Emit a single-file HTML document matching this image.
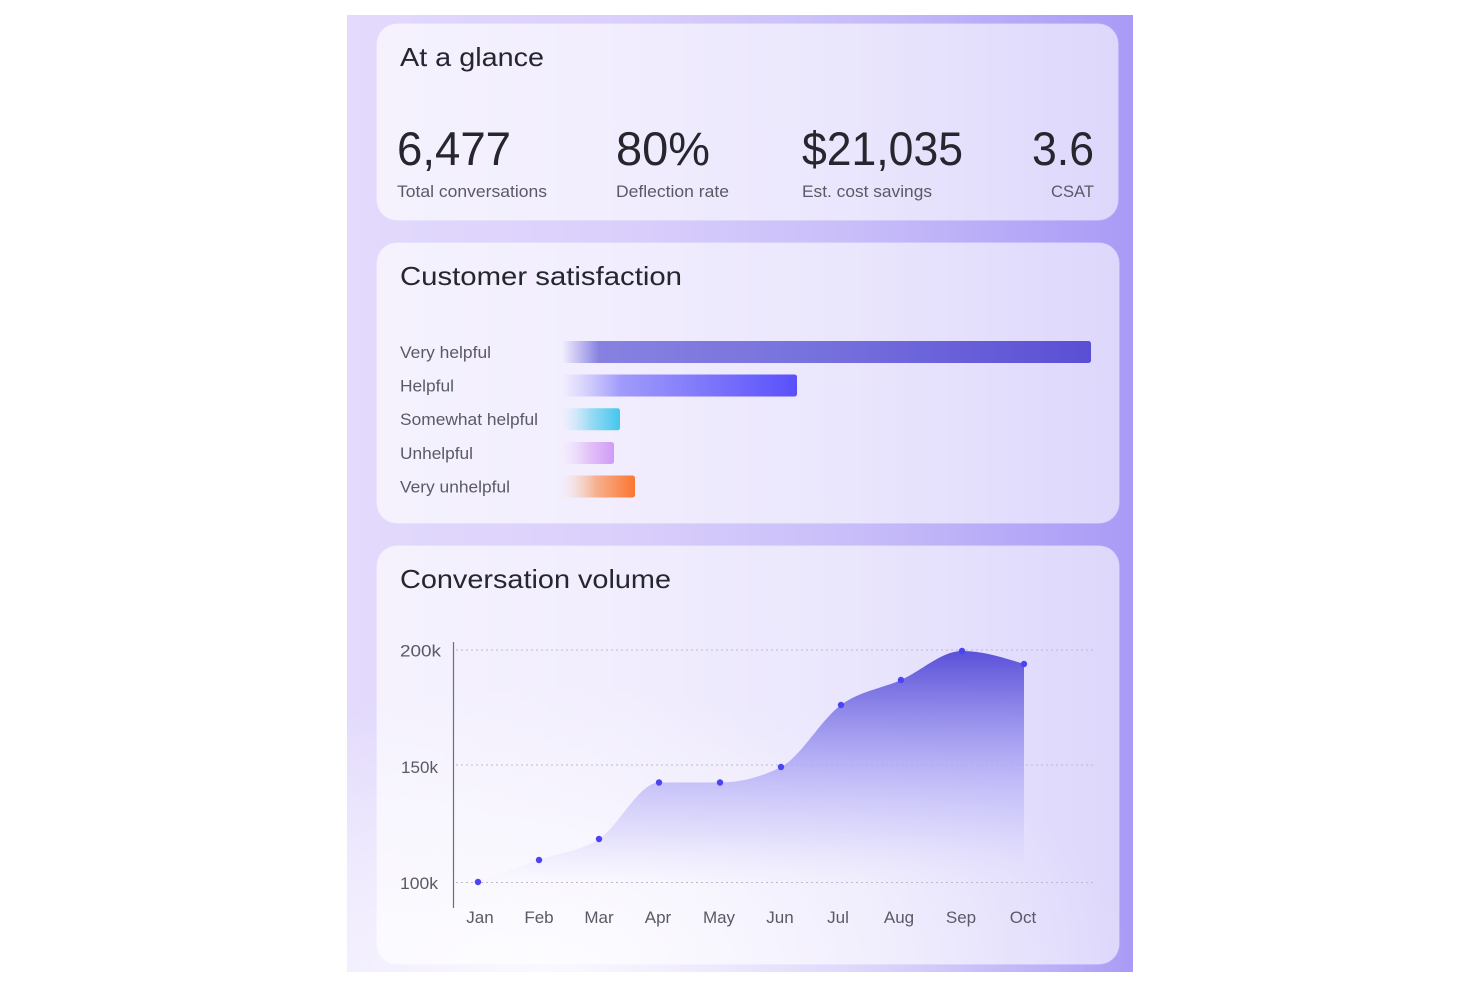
<!DOCTYPE html>
<html><head><meta charset="utf-8">
<style>
html,body{margin:0;padding:0;background:#fff;}
body{width:1480px;height:987px;position:relative;overflow:hidden;font-family:"Liberation Sans",sans-serif;}
.outer{position:absolute;left:347px;top:15px;width:786px;height:957px;
background:
radial-gradient(ellipse 75% 30% at 25% 100%, rgba(255,255,255,0.85), rgba(255,255,255,0) 100%),
linear-gradient(to bottom, rgba(255,255,255,0) 85%, rgba(190,160,225,0.0) 100%),
linear-gradient(90deg,#e3dafc 0%,#dacffb 35%,#c8bdf9 65%,#b3a6f7 88%,#a99bf6 100%);}
.card{position:absolute;border-radius:20px;
background:linear-gradient(90deg,rgba(255,255,255,0.66) 0%,rgba(255,255,255,0.62) 50%,rgba(255,255,255,0.6) 100%);
box-shadow:0 0 0 0.5px rgba(255,255,255,0.5);}
svg{position:absolute;left:0;top:0;}
</style></head>
<body>
<div class="outer"></div>
<div class="card" style="left:377px;top:24px;width:741px;height:196px;"></div>
<div class="card" style="left:377px;top:243px;width:742px;height:280px;"></div>
<div class="card" style="left:377px;top:546px;width:742px;height:418px;"></div>

<svg width="1480" height="987" viewBox="0 0 1480 987" xmlns="http://www.w3.org/2000/svg" font-family="Liberation Sans, sans-serif">
<defs>
<linearGradient id="g1" x1="0" x2="1" y1="0" y2="0">
<stop offset="0" stop-color="#8c86e2" stop-opacity="0"/>
<stop offset="0.07" stop-color="#8781e0" stop-opacity="1"/>
<stop offset="0.5" stop-color="#7670dd"/>
<stop offset="1" stop-color="#5a4fd4"/>
</linearGradient>
<linearGradient id="g2" x1="0" x2="1" y1="0" y2="0">
<stop offset="0" stop-color="#b0acfb" stop-opacity="0"/>
<stop offset="0.25" stop-color="#a09bfb" stop-opacity="1"/>
<stop offset="1" stop-color="#5950fb"/>
</linearGradient>
<linearGradient id="g3" x1="0" x2="1" y1="0" y2="0">
<stop offset="0" stop-color="#bfe8f8" stop-opacity="0"/>
<stop offset="0.5" stop-color="#98dbf3"/>
<stop offset="1" stop-color="#45c6ef"/>
</linearGradient>
<linearGradient id="g4" x1="0" x2="1" y1="0" y2="0">
<stop offset="0" stop-color="#ecd9fb" stop-opacity="0"/>
<stop offset="0.5" stop-color="#e3c4f8"/>
<stop offset="1" stop-color="#d09cf6"/>
</linearGradient>
<linearGradient id="g5" x1="0" x2="1" y1="0" y2="0">
<stop offset="0" stop-color="#f8d6c6" stop-opacity="0"/>
<stop offset="0.45" stop-color="#f6b393"/>
<stop offset="1" stop-color="#fb7630"/>
</linearGradient>
<linearGradient id="area" gradientUnits="userSpaceOnUse" x1="0" y1="650" x2="0" y2="885">
<stop offset="0" stop-color="#5a50d8" stop-opacity="1"/>
<stop offset="0.25" stop-color="#8a82e8" stop-opacity="0.95"/>
<stop offset="0.5" stop-color="#aea8f5" stop-opacity="0.8"/>
<stop offset="0.78" stop-color="#cdc9fa" stop-opacity="0.5"/>
<stop offset="1" stop-color="#e6e3fd" stop-opacity="0"/>
</linearGradient>
</defs>

<!-- Card 1 -->
<text x="400" y="66" font-size="26" fill="#26262e" textLength="144" lengthAdjust="spacingAndGlyphs">At a glance</text>
<text x="397" y="165" font-size="47" fill="#26262e" textLength="114" lengthAdjust="spacingAndGlyphs">6,477</text>
<text x="616" y="165" font-size="47" fill="#26262e" textLength="94" lengthAdjust="spacingAndGlyphs">80%</text>
<text x="802" y="165" font-size="47" fill="#26262e" textLength="161" lengthAdjust="spacingAndGlyphs">$21,035</text>
<text x="1032" y="165" font-size="47" fill="#26262e" textLength="62" lengthAdjust="spacingAndGlyphs">3.6</text>
<text x="397" y="197" font-size="17" fill="#5a5a66" textLength="150" lengthAdjust="spacingAndGlyphs">Total conversations</text>
<text x="616" y="197" font-size="17" fill="#5a5a66" textLength="113" lengthAdjust="spacingAndGlyphs">Deflection rate</text>
<text x="802" y="197" font-size="17" fill="#5a5a66" textLength="130" lengthAdjust="spacingAndGlyphs">Est. cost savings</text>
<text x="1051" y="197" font-size="17" fill="#5a5a66" textLength="43" lengthAdjust="spacingAndGlyphs">CSAT</text>

<!-- Card 2 -->
<text x="400" y="285" font-size="26" fill="#26262e" textLength="282" lengthAdjust="spacingAndGlyphs">Customer satisfaction</text>
<text x="400" y="358" font-size="17" fill="#5a5a66" textLength="91" lengthAdjust="spacingAndGlyphs">Very helpful</text>
<text x="400" y="391.5" font-size="17" fill="#5a5a66" textLength="54" lengthAdjust="spacingAndGlyphs">Helpful</text>
<text x="400" y="425" font-size="17" fill="#5a5a66" textLength="138" lengthAdjust="spacingAndGlyphs">Somewhat helpful</text>
<text x="400" y="459" font-size="17" fill="#5a5a66" textLength="73" lengthAdjust="spacingAndGlyphs">Unhelpful</text>
<text x="400" y="492.5" font-size="17" fill="#5a5a66" textLength="110" lengthAdjust="spacingAndGlyphs">Very unhelpful</text>
<rect x="562" y="341" width="529" height="22" rx="2.5" fill="url(#g1)"/>
<rect x="562" y="374.5" width="235" height="22" rx="2.5" fill="url(#g2)"/>
<rect x="562" y="408.3" width="58" height="22" rx="2.5" fill="url(#g3)"/>
<rect x="562" y="442" width="52" height="22" rx="2.5" fill="url(#g4)"/>
<rect x="562" y="475.5" width="73" height="22" rx="2.5" fill="url(#g5)"/>

<!-- Card 3 -->
<text x="400" y="588" font-size="26" fill="#26262e" textLength="271" lengthAdjust="spacingAndGlyphs">Conversation volume</text>

<!-- gridlines -->
<g stroke="#bdb8cc" stroke-width="1" stroke-dasharray="2,3">
<line x1="456" y1="650" x2="1094" y2="650"/>
<line x1="456" y1="765" x2="1094" y2="765"/>
<line x1="456" y1="882.5" x2="1094" y2="882.5"/>
</g>
<line x1="453.5" y1="642" x2="453.5" y2="908" stroke="#6e6e78" stroke-width="1.2"/>

<!-- area -->
<path fill="url(#area)" d="M478,882 C498.3,874.6 518.7,867.2 539,860 C559,852.9 579,851.9 599,839 C619,826.1 639,782.5 659,782.5 C679.3,782.5 699.7,782.5 720,782.5 C740.3,782.5 760.7,777.3 781,767 C801,756.8 821,719.4 841,705 C861,690.6 881,688.9 901,680 C921.3,670.9 941.7,651 962,651 C982.7,651 1003.3,657.5 1024,664 L1024,885 L478,885 Z"/>

<g fill="#4b44f2">
<circle cx="478" cy="882" r="3.2"/>
<circle cx="539" cy="860" r="3.2"/>
<circle cx="599" cy="839" r="3.2"/>
<circle cx="659" cy="782.5" r="3.2"/>
<circle cx="720" cy="782.5" r="3.2"/>
<circle cx="781" cy="767" r="3.2"/>
<circle cx="841" cy="705" r="3.2"/>
<circle cx="901" cy="680" r="3.2"/>
<circle cx="962" cy="651" r="3.2"/>
<circle cx="1024" cy="664" r="3.2"/>
</g>

<!-- y labels -->
<g font-size="17" fill="#5a5a66">
<text x="400" y="656.5" textLength="41" lengthAdjust="spacingAndGlyphs">200k</text>
<text x="401" y="773" textLength="37" lengthAdjust="spacingAndGlyphs">150k</text>
<text x="400" y="889" textLength="38" lengthAdjust="spacingAndGlyphs">100k</text>
</g>
<!-- x labels -->
<g font-size="17" fill="#5a5a66" text-anchor="middle">
<text x="480" y="923">Jan</text>
<text x="539" y="923">Feb</text>
<text x="599" y="923">Mar</text>
<text x="658" y="923">Apr</text>
<text x="719" y="923">May</text>
<text x="780" y="923">Jun</text>
<text x="838" y="923">Jul</text>
<text x="899" y="923">Aug</text>
<text x="961" y="923">Sep</text>
<text x="1023" y="923">Oct</text>
</g>
</svg>
</body></html>
